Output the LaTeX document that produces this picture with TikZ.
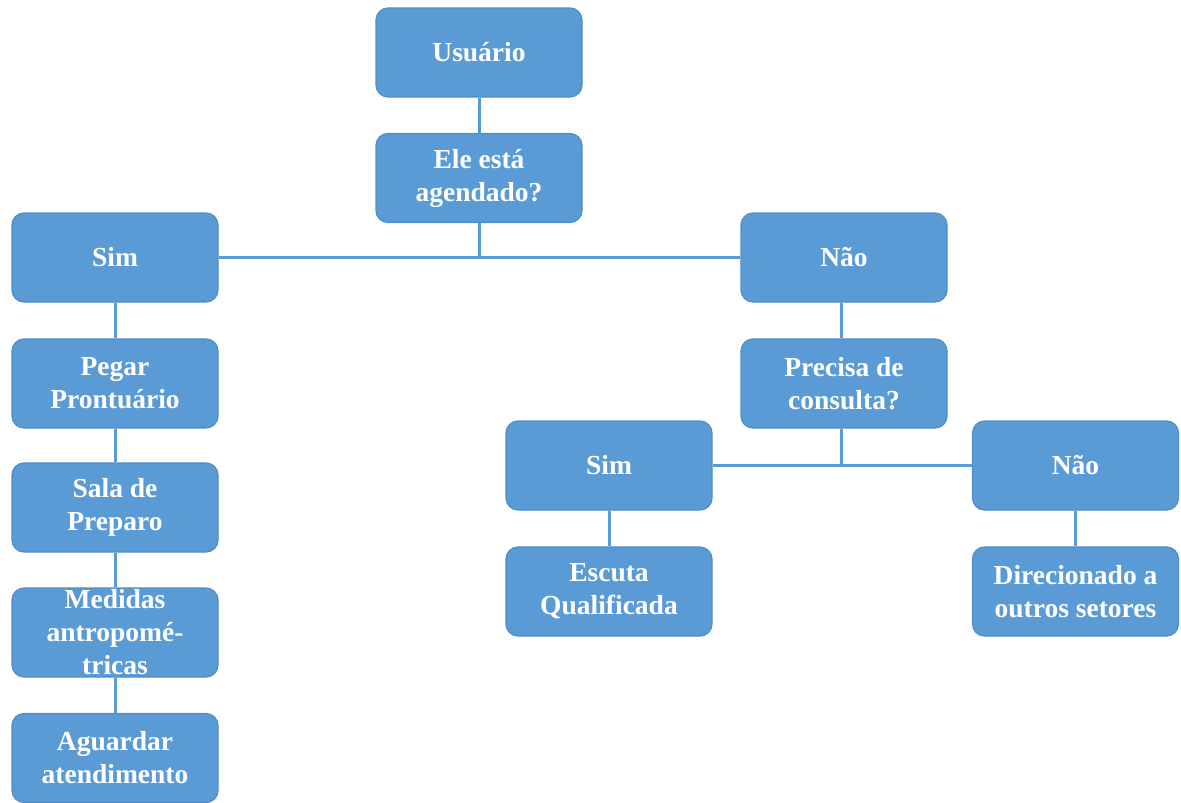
\documentclass[tikz,border=0pt]{standalone}
\usepackage{fontspec}
\setmainfont{Liberation Serif}
\definecolor{boxfill}{RGB}{91,155,213}
\definecolor{boxline}{RGB}{80,140,200}
\definecolor{conn}{RGB}{91,155,213}
\begin{document}
\begin{tikzpicture}[x=1pt,y=-1pt,
  box/.style={draw=boxline, line width=1.2pt, fill=boxfill, rounded corners=12pt,
    minimum width=206pt, minimum height=89pt, inner sep=0pt, align=center,
    text=white, font=\fontsize{27.5}{33}\selectfont\bfseries},
  conn/.style={draw=conn, line width=3pt}]
\useasboundingbox (0,0) rectangle (1181,803);
\node[box] (usr) at (479,52.5) {Usuário};
\node[box] (ele) at (479,178) {Ele está\\agendado?};
\node[box] (sim) at (115,257.5) {Sim};
\node[box] (nao) at (844,257.5) {Não};
\node[box] (peg) at (115,383.5) {Pegar\\Prontuário};
\node[box] (sal) at (115,507.5) {Sala de\\Preparo};
\node[box] (med) at (115,632.5) {Medidas\\antropomé-\\tricas};
\node[box] (agu) at (115,758) {Aguardar\\atendimento};
\node[box] (pre) at (844,383.5) {Precisa de\\consulta?};
\node[box] (sim2) at (609,465.5) {Sim};
\node[box] (nao2) at (1075.5,465.5) {Não};
\node[box] (esc) at (609,591.5) {Escuta\\Qualificada};
\node[box] (dir) at (1075.5,591.5) {Direcionado a\\outros setores};
\coordinate (j1) at (479,258);
\coordinate (j2) at (841,464);
\draw[conn] (usr.south) -- (ele.north);
\draw[conn] (ele.south) -- (j1);
\draw[conn] (sim.east) -- (nao.west);
\draw[conn] (sim.south) -- (peg.north);
\draw[conn] (peg.south) -- (sal.north);
\draw[conn] (sal.south) -- (med.north);
\draw[conn] (med.south) -- (agu.north);
\draw[conn] (nao.south -| j2) -- (pre.north -| j2);
\draw[conn] (pre.south -| j2) -- (j2);
\draw[conn] (sim2.east) -- (nao2.west);
\draw[conn] (sim2.south) -- (esc.north);
\draw[conn] (nao2.south) -- (dir.north);
\end{tikzpicture}
\end{document}
